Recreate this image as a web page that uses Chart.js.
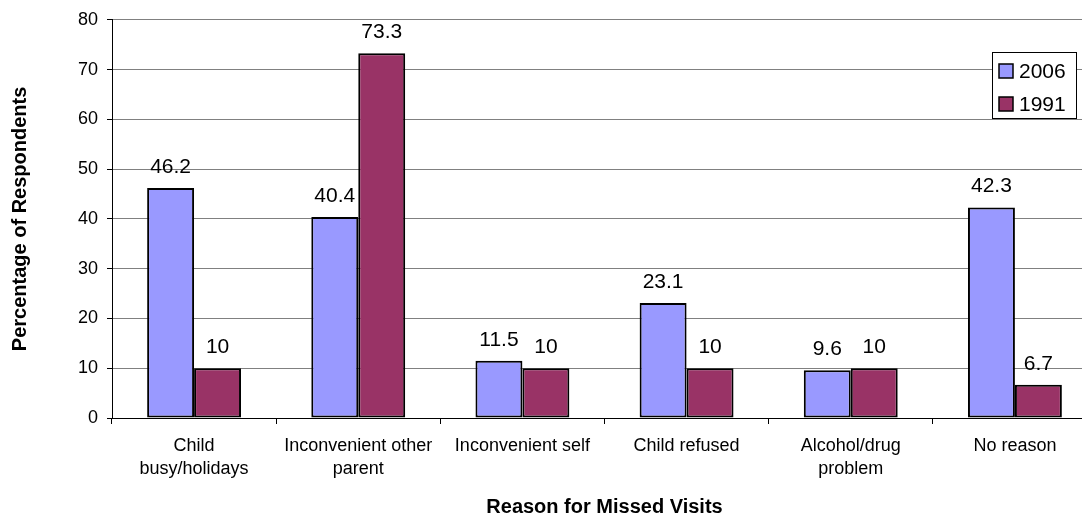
<!DOCTYPE html>
<html>
<head>
<meta charset="utf-8">
<script src="https://cdn.jsdelivr.net/npm/chart.js@4.4.0/dist/chart.umd.min.js"></script>
<style>
  html, body { margin: 0; padding: 0; background: #fff; overflow: hidden; }
  #wrap { position: absolute; left: 0; top: 0; width: 1097px; height: 519px; }
</style>
</head>
<body>
<div id="wrap"><canvas id="c" width="1097" height="519"></canvas></div>
<script>
// Reasons for missed visits, percentage of respondents per survey year
const categories = [
  ['Child', 'busy/holidays'],
  ['Inconvenient other', 'parent'],
  'Inconvenient self',
  'Child refused',
  ['Alcohol/drug', 'problem'],
  'No reason'
];
const series2006 = [46.2, 40.4, 11.5, 23.1, 9.6, 42.3];
const series1991 = [10, 73.3, 10, 10, 10, 6.7];
const seriesNames = ['2006', '1991'];
const yTicks = [0, 10, 20, 30, 40, 50, 60, 70, 80];

const FONT = "'Liberation Sans', Arial, sans-serif";

// Value labels above each bar
const valueLabels = {
  id: 'valueLabels',
  afterDatasetsDraw(chart) {
    const ctx = chart.ctx;
    ctx.save();
    ctx.font = '21px ' + FONT;
    ctx.fillStyle = '#000';
    ctx.textAlign = 'center';
    ctx.textBaseline = 'alphabetic';
    chart.data.datasets.forEach((ds, i) => {
      const meta = chart.getDatasetMeta(i);
      meta.data.forEach((el, j) => {
        ctx.fillText(String(ds.data[j]), el.x, el.y - 15);
      });
    });
    ctx.restore();
  }
};

// Boxed legend in the upper right of the plot
const boxLegend = {
  id: 'boxLegend',
  afterDraw(chart) {
    const ctx = chart.ctx;
    const x = 992, y = 52, w = 85, h = 67;
    ctx.save();
    ctx.fillStyle = '#fff';
    ctx.fillRect(x, y, w, h);
    ctx.strokeStyle = '#000';
    ctx.lineWidth = 1;
    ctx.strokeRect(x + 0.5, y + 0.5, w - 1, h - 1);
    ctx.font = '21px ' + FONT;
    ctx.textBaseline = 'middle';
    ctx.textAlign = 'left';
    chart.data.datasets.forEach((ds, i) => {
      const cy = y + 19 + i * 33;
      ctx.fillStyle = ds.backgroundColor;
      ctx.fillRect(x + 7, cy - 7, 14, 14);
      ctx.strokeStyle = '#000';
      ctx.lineWidth = 1.5;
      ctx.strokeRect(x + 7, cy - 7, 14, 14);
      ctx.fillStyle = '#000';
      ctx.fillText(ds.label, x + 27, cy + 1);
    });
    ctx.restore();
  }
};

new Chart(document.getElementById('c'), {
  type: 'bar',
  data: {
    labels: categories,
    datasets: [
      { label: seriesNames[0], data: series2006, backgroundColor: '#9999FF',
        borderColor: '#000', borderWidth: 2, borderSkipped: false },
      { label: seriesNames[1], data: series1991, backgroundColor: '#993366',
        borderColor: '#000', borderWidth: 2, borderSkipped: false }
    ]
  },
  options: {
    responsive: false,
    animation: false,
    layout: { padding: { top: 17, right: 0, left: 0, bottom: 0 } },
    datasets: { bar: { categoryPercentage: 0.572, barPercentage: 1 } },
    plugins: { legend: { display: false }, tooltip: { enabled: false } },
    scales: {
      x: {
        grid: { drawOnChartArea: false, drawTicks: true, tickLength: 6, tickColor: '#000', offset: true },
        border: { color: '#000', width: 1 },
        ticks: { color: '#000', font: { family: FONT, size: 18, lineHeight: 1.26 }, padding: 11, maxRotation: 0, autoSkip: false },
        title: { display: true, text: 'Reason for Missed Visits', color: '#000',
                 font: { family: FONT, size: 20, weight: 'bold' }, padding: { bottom: 0, top: 0 } },
        afterFit(scale) { scale.height = 101; }
      },
      y: {
        min: 0, max: 80,
        afterBuildTicks(scale) { scale.ticks = yTicks.map(v => ({ value: v })); },
        grid: { color: '#808080', lineWidth: 1, tickLength: 5, tickColor: '#000' },
        border: { color: '#000', width: 1 },
        ticks: { color: '#000', font: { family: FONT, size: 18 }, padding: 9 },
        title: { display: true, text: 'Percentage of Respondents', color: '#000',
                 font: { family: FONT, size: 20, weight: 'bold' }, padding: { top: 8, bottom: 0 } },
        afterFit(scale) { scale.width = 112; }
      }
    }
  },
  plugins: [valueLabels, boxLegend]
});
</script>
</body>
</html>
